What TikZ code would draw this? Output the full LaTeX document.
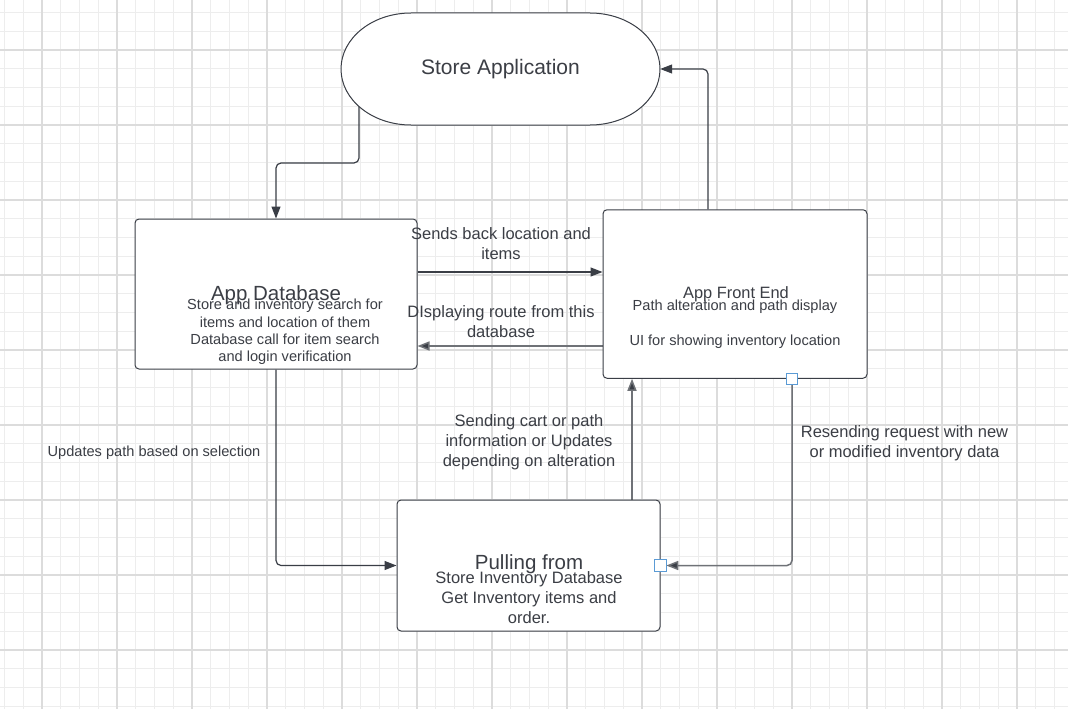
\documentclass[tikz,border=0pt]{standalone}
\usepackage{fontspec}
\setmainfont{Liberation Sans}
\usetikzlibrary{arrows.meta,calc}
\definecolor{ink}{HTML}{3A3E46}
\definecolor{txt}{HTML}{3B3E45}
\definecolor{gridminor}{HTML}{EDEDED}
\definecolor{gridmajor}{HTML}{DCDCDC}
\definecolor{lightline}{HTML}{6F7277}
\definecolor{handle}{HTML}{5B9BD5}
\pgfdeclarelayer{grid}
\pgfdeclarelayer{edges}
\pgfsetlayers{grid,edges,main}
\tikzset{
  box/.style={draw=ink, line width=1pt, fill=white, rounded corners=4pt, inner sep=0pt},
  conn/.style={draw=ink, line width=1.2pt, rounded corners=5pt, -{Triangle[length=12pt,width=9pt]}},
  connlight/.style={draw=lightline, line width=1.5pt, rounded corners=5pt, -{Triangle[length=12pt,width=9pt,fill=ink]}},
  handlebox/.style={draw=handle, fill=white, line width=1pt, minimum size=11.5pt, inner sep=0pt},
  bigtitle/.style={text=txt, inner sep=0pt, font=\fontsize{20.5}{24}\selectfont},
  midtitle/.style={text=txt, inner sep=0pt, font=\fontsize{16.4}{19}\selectfont},
  bodytext/.style={text=txt, inner sep=0pt, align=center, font=\fontsize{14.6}{17.2}\selectfont},
  lbl/.style={text=txt, inner sep=0pt, align=center, font=\fontsize{16.5}{20}\selectfont},
}
\begin{document}
\begin{tikzpicture}[x=1pt,y=-1pt]
\useasboundingbox (0,0) rectangle (1068,709);
\begin{pgfonlayer}{grid}
  \fill[white] (0,0) rectangle (1068,709);
  \foreach \k in {0,...,56} \draw[gridminor, line width=0.8pt] ({4.5+18.75*\k},0) -- ({4.5+18.75*\k},709);
  \foreach \k in {0,...,37} \draw[gridminor, line width=0.8pt] (0,{12.5+18.75*\k}) -- (1068,{12.5+18.75*\k});
  \foreach \k in {0,...,13} \draw[gridmajor, line width=1.5pt] ({42+75*\k},0) -- ({42+75*\k},709);
  \foreach \k in {0,...,8} \draw[gridmajor, line width=1.5pt] (0,{50+75*\k}) -- (1068,{50+75*\k});
\end{pgfonlayer}

% Store Application (stadium)
\draw[ink, line width=1pt, fill=white]
  (411,13) -- (590,13)
  .. controls (628.7,13) and (660,38.1) .. (660,69)
  .. controls (660,99.9) and (628.7,125) .. (590,125)
  -- (411,125)
  .. controls (372.3,125) and (341,99.9) .. (341,69)
  .. controls (341,38.1) and (372.3,13) .. (411,13) -- cycle;
\node[bigtitle, minimum width=319pt, minimum height=112pt, font=\fontsize{21}{24}\selectfont] (app) at (500.5,69) {Store Application};

% boxes
\node[box, minimum width=282pt, minimum height=150pt] (db) at (276,294) {};
\node[box, minimum width=264pt, minimum height=168.5pt] (fe) at (735,294) {};
\node[box, minimum width=263pt, minimum height=131pt] (pull) at (528.5,565.5) {};

\node[bigtitle] (dbtitle) at (276,294.7) {App Database};
\node[bodytext] (dbbody) at (285,332) {Store and inventory search for\\items and location of them\\Database call for item search\\and login verification};

\node[midtitle] (fetitle) at (736,294.7) {App Front End};
\node[bodytext, font=\fontsize{14.6}{17.85}\selectfont] (febody) at (735,324.1) {Path alteration and path display\\[17.85pt]UI for showing inventory location};

\node[bigtitle] (pulltitle) at (529,563.7) {Pulling from};
\node[lbl, font=\fontsize{16.5}{19.7}\selectfont] (pullbody) at (529,597.7) {Store Inventory Database\\Get Inventory items and\\order.};

% connector coordinates
\coordinate (c1) at (359,163);
\coordinate (c2) at (708,69);
\coordinate (r1) at (0,272);
\coordinate (r2) at (0,346);
\coordinate (r3) at (632,0);
\coordinate (r4) at (792,0);

\begin{pgfonlayer}{edges}
  \draw[conn] (app.center -| c1) -- (c1) -| (db.north);
  \draw[conn] (fe.north -| c2) |- (app.east);
  \draw[conn] (db.east |- r1) -- (fe.west |- r1);
  \draw[connlight] (fe.west |- r2) -- (db.east |- r2);
  \draw[conn] (db.south) |- (pull.west);
  \draw[connlight] (pull.north -| r3) -- (fe.south -| r3);
  \draw[connlight, shorten >=5.75pt] (fe.south -| r4) |- (pull.east);
\end{pgfonlayer}

\node[handlebox] (h1) at (fe.south -| r4) {};
\node[handlebox] (h2) at (pull.east) {};

% edge labels
\node[lbl] (l1) at (501,243.7) {Sends back location and\\items};
\node[lbl] (l2) at (501,321.2) {DIsplaying route from this\\database};
\node[text=txt, inner sep=0pt, font=\fontsize{14.6}{17.2}\selectfont] (l3) at (154,453) {Updates path based on selection};
\node[lbl] (l4) at (529,442.5) {Sending cart or path\\information or Updates\\depending on alteration};
\node[lbl] (l5) at (904.5,443.7) {Resending request with new\\or modified inventory data};
\end{tikzpicture}
\end{document}
